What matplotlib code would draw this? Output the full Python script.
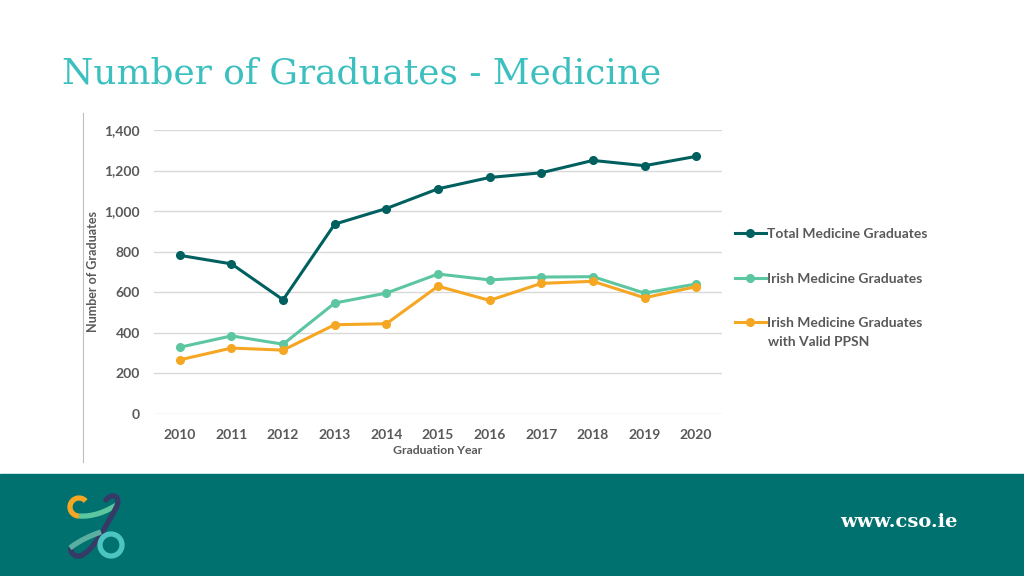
import matplotlib.pyplot as plt
from matplotlib.patches import Rectangle, Arc, Circle, PathPatch
from matplotlib.lines import Line2D
from matplotlib.path import Path
import numpy as np

# data
years = ["2010", "2011", "2012", "2013", "2014", "2015", "2016", "2017", "2018", "2019", "2020"]
total_grads = [782, 740, 563, 936, 1013, 1110, 1166, 1189, 1250, 1224, 1270]
irish_grads = [329, 385, 344, 547, 596, 690, 661, 675, 677, 596, 641]
irish_ppsn = [267, 325, 315, 440, 445, 630, 560, 644, 654, 573, 628]

series_labels = ["Total Medicine Graduates", "Irish Medicine Graduates",
                 "Irish Medicine Graduates"]
ppsn_second_line = "with Valid PPSN"
colors = ["#00605F", "#5CC6A0", "#F5A623"]
grey = "#595959"

plt.rcParams['font.family'] = ['Lato', 'DejaVu Sans']

W, H = 1024, 576
fig = plt.figure(figsize=(10.24, 5.76), dpi=100)
fig.patch.set_facecolor("white")

# title
fig.text(62 / W, 1 - 73 / H, "Number of Graduates - Medicine", family="DejaVu Serif",
         fontsize=25.8, color="#3BBFBF", va="center", ha="left")

# thin grey frame line left of chart
fig.add_artist(Line2D([83 / W, 83 / W], [1 - 113 / H, 1 - 462 / H], color="#BFBFBF", lw=0.8))

# chart
ax = fig.add_axes([154 / W, 1 - 414 / H, (722 - 154) / W, (414 - 130) / H])
x = np.arange(len(years))
for vals, lab, c in zip([total_grads, irish_grads, irish_ppsn], series_labels, colors):
    ax.plot(x, vals, color=c, lw=2.2, marker="o", ms=5.5, label=lab, clip_on=False)

ax.set_xlim(-0.5, len(years) - 0.5)
ax.set_ylim(0, 1400)
ax.set_yticks(range(0, 1401, 200))
ax.set_yticklabels([f"{v:,}" for v in range(0, 1401, 200)])
ax.set_xticks(x)
ax.set_xticklabels(years)
ax.grid(axis="y", color="#D9D9D9", lw=1)
ax.set_axisbelow(True)
for s in ax.spines.values():
    s.set_visible(False)
ax.tick_params(length=0, labelsize=10, labelcolor=grey)
ax.tick_params(axis="x", pad=11)
ax.tick_params(axis="y", pad=10)
for t in ax.get_xticklabels() + ax.get_yticklabels():
    t.set_fontweight("bold")
ax.set_xlabel("Graduation Year", fontsize=8.8, color=grey, fontweight="bold", labelpad=3)
ax.set_ylabel("Number of Graduates", fontsize=9, color=grey, fontweight="bold", labelpad=4)

leg = ax.legend(loc="upper left", bbox_to_anchor=(735 / W, 1 - 228 / H),
                bbox_transform=fig.transFigure, frameon=False, fontsize=10,
                labelspacing=2.35, handlelength=2.2, handletextpad=0.1,
                borderpad=0, borderaxespad=0)
for t in leg.get_texts():
    t.set_color(grey)
    t.set_fontweight("bold")
fig.text(768 / W, 1 - 342 / H, ppsn_second_line, color=grey, fontsize=10,
         fontweight="bold", ha="left", va="center")

# bottom band
fig.add_artist(Rectangle((0, 0), 1, (576 - 474) / H, transform=fig.transFigure,
                         color="#00716F", zorder=0))
fig.text(957 / W, 1 - 522 / H, "www.cso.ie", color="white", fontsize=14,
         fontweight="bold", ha="right", va="center", family="DejaVu Serif")

# logo (pixel coords overlay, y down)
lax = fig.add_axes([0, 0, 1, 1], facecolor="none")
lax.set_xlim(0, W)
lax.set_ylim(H, 0)
lax.axis("off")
lw = 3.8
curve = [Path.MOVETO, Path.CURVE4, Path.CURVE4, Path.CURVE4]
# mint band from bottom of the orange C up to the navy hook
lax.add_patch(PathPatch(Path([(79, 516), (92, 517), (106, 512), (118, 504)], curve),
                        fill=False, ec="#5CC6A0", lw=lw, capstyle="butt"))
lax.add_patch(Arc((79, 507), 18, 18, theta1=90, theta2=318, color="#F5A623", lw=lw))
# navy S stroke
lax.add_patch(PathPatch(Path([(106, 500), (112, 492), (122, 496), (116, 508)], curve),
                        fill=False, ec="#353A66", lw=lw, capstyle="round"))
lax.add_patch(PathPatch(Path([(116, 508), (104, 530), (92, 552), (80, 556)], curve),
                        fill=False, ec="#353A66", lw=lw, capstyle="round"))
lax.add_patch(PathPatch(Path([(80, 556), (74, 557), (70, 552), (71, 548)], curve),
                        fill=False, ec="#353A66", lw=lw, capstyle="round"))
# lower mint band
lax.add_patch(PathPatch(Path([(70, 548), (80, 540), (92, 535), (101, 532)], curve),
                        fill=False, ec="#5BAFA0", lw=lw, capstyle="butt"))
lax.add_patch(Circle((111, 545), 11, fill=False, ec="#4CC5C2", lw=lw))

fig.savefig("out.png", dpi=100)
